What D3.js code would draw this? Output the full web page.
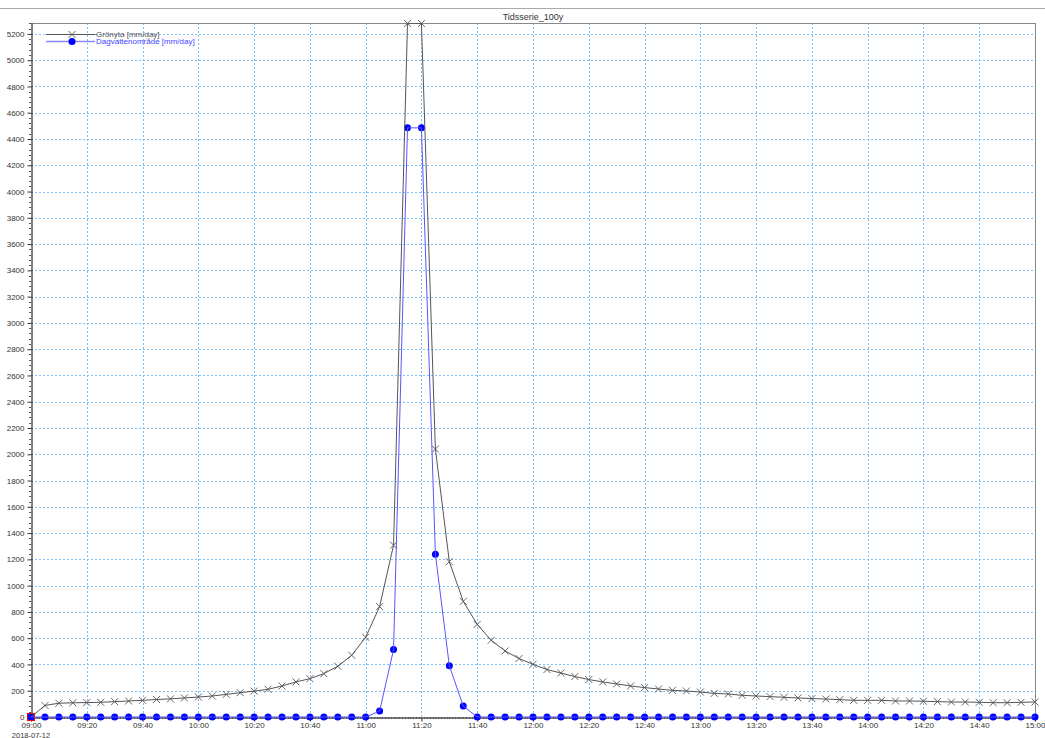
<!DOCTYPE html>
<html>
<head>
<meta charset="utf-8">
<script src="https://cdn.jsdelivr.net/npm/d3@7"></script>
<style>
html,body{margin:0;padding:0;background:#fff;}
svg{display:block;font-family:"Liberation Sans",Arial,sans-serif;}
</style>
</head>
<body>
<svg id="chart" width="1045" height="738"></svg>
<script>
const title = "Tidsserie_100y";
const dateLabel = "2018-07-12";
const seriesNames = ["Grönyta [mm/day]", "Dagvattenområde [mm/day]"];
const startTime = "2018-07-12T09:00:00";
const endTime = "2018-07-12T15:00:00";
const stepMinutes = 5;
const gronyta = [
  0,88,105,108,110,112,117,122,127,133,138,145,
  152,160,172,185,197,211,236,267,292,330,386,470,
  607,840,1308,5280,5280,2040,1182,880,705,584,503,445,
  401,361,335,308,285,267,252,236,224,213,203,198,
  190,180,175,165,160,155,150,145,140,137,132,127,
  127,127,122,122,120,117,114,114,112,109,109,112,
  114
];
const dagvatten = [
  0,0,0,0,0,0,0,0,0,0,0,0,
  0,0,0,0,0,0,0,0,0,0,0,0,
  0,45,513,4485,4485,1239,390,83,0,0,0,0,
  0,0,0,0,0,0,0,0,0,0,0,0,
  0,0,0,0,0,0,0,0,0,0,0,0,
  0,0,0,0,0,0,0,0,0,0,0,0,
  0
];
const yTicks = d3.range(0, 5201, 200);
const yMax = 5283;

const t0 = new Date(startTime), t1 = new Date(endTime);
const times = gronyta.map((_, i) => d3.timeMinute.offset(t0, i * stepMinutes));

const L = 31, R = 1035, T = 23, B = 717;
const svg = d3.select("#chart");
const x = d3.scaleTime().domain([t0, t1]).range([L, R]);
const y = d3.scaleLinear().domain([0, yMax]).range([B, T]);

// top separator
svg.append("line").attr("x1", 0).attr("x2", 1045).attr("y1", 8.5).attr("y2", 8.5)
  .attr("stroke", "#aaa").attr("stroke-width", 1);

// title
svg.append("text").attr("x", 533).attr("y", 20).attr("text-anchor", "middle")
  .attr("font-size", 9).attr("fill", "#333").text(title);

// grid
const grid = svg.append("g");
const xMajor = d3.timeMinute.every(20).range(t0, d3.timeMinute.offset(t1, 1));
grid.selectAll(".vx").data(xMajor.filter(d => +d !== +t0 && +d !== +t1)).join("line")
  .attr("x1", d => Math.round(x(d)) + 0.5).attr("x2", d => Math.round(x(d)) + 0.5)
  .attr("y1", T).attr("y2", B)
  .attr("stroke", "#7fbff7").attr("stroke-width", 1).attr("stroke-dasharray", "2,2");
grid.selectAll(".hy").data(yTicks.filter(d => d > 0)).join("line")
  .attr("x1", L).attr("x2", R)
  .attr("y1", d => Math.round(y(d)) + 0.5).attr("y2", d => Math.round(y(d)) + 0.5)
  .attr("stroke", "#7fbff7").attr("stroke-width", 1).attr("stroke-dasharray", "2,2");

// frame
svg.append("line").attr("x1", L).attr("x2", R).attr("y1", T + 0.5).attr("y2", T + 0.5).attr("stroke", "#888");
svg.append("line").attr("x1", R + 0.5).attr("x2", R + 0.5).attr("y1", T).attr("y2", B).attr("stroke", "#888");

// y axis
const yAxis = svg.append("g").attr("transform", `translate(${L + 0.5},0)`)
  .call(d3.axisLeft(y).tickValues(yTicks).tickSize(4).tickSizeOuter(0).tickFormat(d3.format("d")));
yAxis.select(".domain").attr("stroke", "#000");
yAxis.selectAll(".tick line").attr("stroke", "#333");
yAxis.selectAll("text").attr("font-size", 8).attr("fill", "#333")
  .attr("font-family", "Liberation Sans, Arial, sans-serif");
const yMinor = d3.range(0, yMax, 40).filter(d => d % 200 !== 0);
svg.append("g").selectAll("line").data(yMinor).join("line")
  .attr("x1", L - 2).attr("x2", L)
  .attr("y1", d => Math.round(y(d)) + 0.5).attr("y2", d => Math.round(y(d)) + 0.5)
  .attr("stroke", "#555");

// x axis
const xAxis = svg.append("g").attr("transform", `translate(0,${B + 0.5})`)
  .call(d3.axisBottom(x).tickValues(xMajor).tickSize(4).tickSizeOuter(0).tickFormat(d3.timeFormat("%H:%M")));
xAxis.select(".domain").attr("stroke", "#000");
xAxis.selectAll(".tick line").attr("stroke", "#333");
xAxis.selectAll("text").attr("font-size", 8).attr("fill", "#333")
  .attr("y", 10).attr("dy", 0)
  .attr("font-family", "Liberation Sans, Arial, sans-serif");
const xMinor = d3.timeSecond.every(150).range(t0, t1).filter(d => d.getMinutes() % 20 !== 0 || d.getSeconds() !== 0);
svg.append("g").selectAll("line").data(xMinor).join("line")
  .attr("x1", d => Math.round(x(d)) + 0.5).attr("x2", d => Math.round(x(d)) + 0.5)
  .attr("y1", B).attr("y2", B + 2).attr("stroke", "#555");
svg.append("text").attr("x", 31).attr("y", 737.5).attr("text-anchor", "middle")
  .attr("font-size", 7.5).attr("fill", "#333").text(dateLabel);

// clip for data
svg.append("clipPath").attr("id", "clip").append("rect")
  .attr("x", L).attr("y", T).attr("width", R - L + 6).attr("height", B - T + 6);
const plot = svg.append("g");
const plotClip = svg.append("g").attr("clip-path", "url(#clip)");

const line = d3.line().x((d, i) => x(times[i])).y(d => y(d));

plotClip.append("path").datum(gronyta).attr("d", line)
  .attr("fill", "none").attr("stroke", "#555").attr("stroke-width", 1);
plotClip.append("path").datum(dagvatten).attr("d", line)
  .attr("fill", "none").attr("stroke", "#5555ff").attr("stroke-width", 1);

// markers
const xs = 3.5;
const xMark = (g, cx, cy) => {
  g.append("path").attr("d", `M${cx - xs},${cy - xs}L${cx + xs},${cy + xs}M${cx - xs},${cy + xs}L${cx + xs},${cy - xs}`)
    .attr("stroke", "#666").attr("stroke-width", 1).attr("fill", "none");
};
const gm = plot.append("g");
gronyta.forEach((v, i) => xMark(gm, x(times[i]), y(v)));
plot.append("g").selectAll("circle").data(dagvatten).join("circle")
  .attr("cx", (d, i) => x(times[i])).attr("cy", d => y(d)).attr("r", 3.5)
  .attr("fill", "#0000ff");

// red selection square at first point
plot.append("rect").attr("x", x(times[0]) - 3.5).attr("y", y(gronyta[0]) - 3.5)
  .attr("width", 7).attr("height", 7).attr("fill", "none").attr("stroke", "#e00").attr("stroke-width", 1);

// legend
const lg = svg.append("g");
lg.append("line").attr("x1", 46).attr("x2", 95).attr("y1", 34.5).attr("y2", 34.5).attr("stroke", "#555");
xMark(lg, 72, 34.5);
lg.append("text").attr("x", 96).attr("y", 37).attr("font-size", 8).attr("fill", "#555").text(seriesNames[0]);
lg.append("line").attr("x1", 46).attr("x2", 95).attr("y1", 41.5).attr("y2", 41.5).attr("stroke", "#8888ff").attr("stroke-width", 1.5);
lg.append("circle").attr("cx", 72).attr("cy", 41.5).attr("r", 3.5).attr("fill", "#0000ff");
lg.append("text").attr("x", 96).attr("y", 44).attr("font-size", 8).attr("fill", "#4444ff").text(seriesNames[1]);
</script>
</body>
</html>
